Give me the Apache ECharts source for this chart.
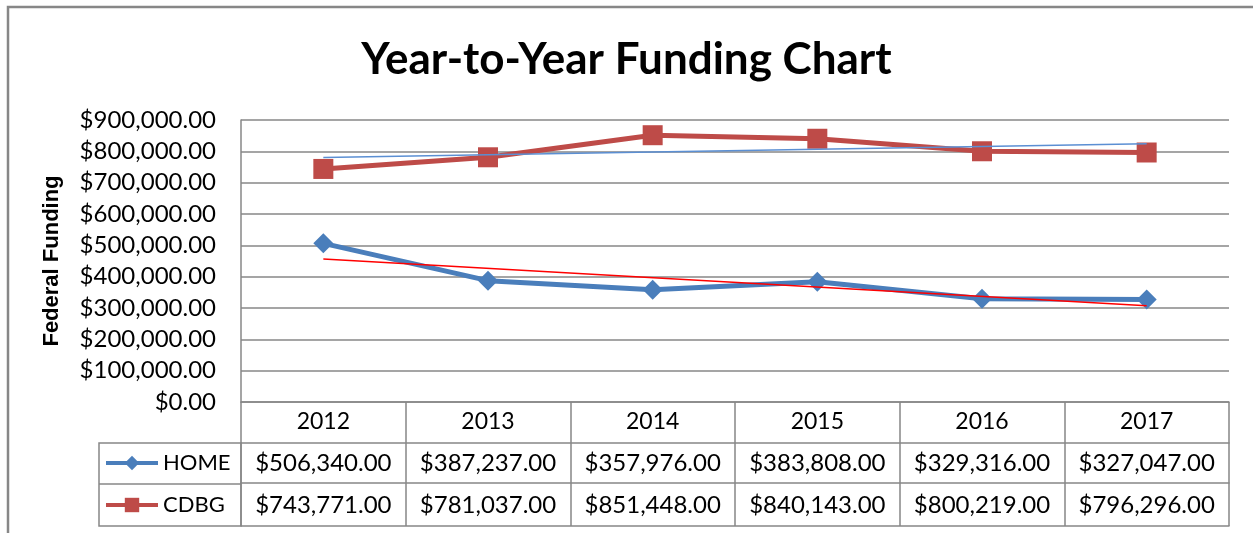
<!DOCTYPE html>
<html>
<head>
<meta charset="utf-8">
<script src="https://cdn.jsdelivr.net/npm/echarts@6/dist/echarts.min.js"></script>
<style>
  html, body { margin: 0; padding: 0; background: #fff; }
  #chart { width: 1253px; height: 533px; }
</style>
</head>
<body>
<div id="chart"></div>
<script>
const years = ['2012', '2013', '2014', '2015', '2016', '2017']
const homeVals = [506340, 387237, 357976, 383808, 329316, 327047]
const cdbgVals = [743771, 781037, 851448, 840143, 800219, 796296]
// trendline end points (2012, 2017)
const homeTrend = [456000, 307000]
const cdbgTrend = [780000, 824000]

const FONT = 'Lato'
const GRAY = '#878787'

const money = v => '$' + v.toLocaleString('en-US', { minimumFractionDigits: 2, maximumFractionDigits: 2 })
const trendData = ends => years.map((y, i) => i === 0 ? ends[0] : (i === years.length - 1 ? ends[1] : null))

const chart = echarts.init(document.getElementById('chart'))

const tableAxis = (offset, values, margin) => ({
    type: 'category',
    data: years,
    position: 'bottom',
    offset: offset,
    axisLine: { show: true, lineStyle: { color: GRAY, width: 1.5 } },
    axisTick: { show: false },
    axisLabel: {
        show: !!values,
        interval: 0,
        hideOverlap: false,
        margin: margin,
        fontFamily: FONT,
        fontSize: 24,
        color: '#000',
        formatter: (v, i) => values ? money(values[i]) : ''
    }
})

const option = {
    animation: false,
    backgroundColor: '#fff',
    title: {
        text: 'Year-to-Year Funding Chart',
        left: 'center',
        top: 33,
        textStyle: { fontFamily: FONT, fontSize: 44, fontWeight: 'bold', color: '#000' }
    },
    legend: {
        orient: 'vertical',
        left: 104,
        top: 452,
        padding: 0,
        data: ['HOME', 'CDBG'],
        itemWidth: 52,
        itemHeight: 18,
        itemGap: 20,
        lineStyle: { width: 4 },
        textStyle: { fontFamily: FONT, fontSize: 22, color: '#000', lineHeight: 22 }
    },
    grid: { left: 241, right: 24, top: 120, bottom: 131 },
    xAxis: [
        {
            type: 'category',
            data: years,
            position: 'bottom',
            axisLine: { show: true, lineStyle: { color: GRAY, width: 1.5 } },
            axisTick: { show: true, length: 124, interval: 0, lineStyle: { color: GRAY, width: 1.5 } },
            axisLabel: { interval: 0, margin: 8, fontFamily: FONT, fontSize: 23, color: '#000' }
        },
        tableAxis(41, homeVals, 8),
        tableAxis(81, cdbgVals, 10),
        tableAxis(124, null, 0)
    ],
    yAxis: {
        type: 'value',
        min: 0,
        max: 900000,
        interval: 100000,
        name: 'Federal Funding',
        nameLocation: 'middle',
        nameRotate: 90,
        nameGap: 178,
        nameTextStyle: { fontFamily: 'Liberation Sans', fontSize: 22, fontWeight: 'bold', color: '#000' },
        axisLine: { show: true, lineStyle: { color: GRAY, width: 1.5 } },
        axisTick: { show: false },
        splitLine: { lineStyle: { color: GRAY, width: 1.5 } },
        axisLabel: { margin: 25, fontFamily: FONT, fontSize: 24, color: '#000', formatter: money }
    },
    graphic: [
        {
            type: 'rect',
            shape: { x: 8, y: 7, width: 1300, height: 600 },
            style: { fill: 'none', stroke: GRAY, lineWidth: 2.5 }
        },
        {
            type: 'rect',
            shape: { x: 99, y: 443, width: 142, height: 83 },
            style: { fill: 'none', stroke: GRAY, lineWidth: 1.5 }
        },
        {
            type: 'line',
            shape: { x1: 99, y1: 484, x2: 241, y2: 484 },
            style: { stroke: GRAY, lineWidth: 1.5 }
        }
    ],
    series: [
        {
            name: 'HOME',
            type: 'line',
            data: homeVals,
            color: '#4A7EBB',
            lineStyle: { width: 5 },
            symbol: 'diamond',
            symbolSize: 20,
            z: 3
        },
        {
            name: 'CDBG',
            type: 'line',
            data: cdbgVals,
            color: '#BE4B48',
            lineStyle: { width: 5 },
            symbol: 'rect',
            symbolSize: 20,
            z: 3
        },
        {
            name: 'HOME trend',
            type: 'line',
            data: trendData(homeTrend),
            connectNulls: true,
            color: '#FF0000',
            lineStyle: { width: 1.5 },
            symbol: 'none',
            z: 4
        },
        {
            name: 'CDBG trend',
            type: 'line',
            data: trendData(cdbgTrend),
            connectNulls: true,
            color: '#5B8FD3',
            lineStyle: { width: 1.5 },
            symbol: 'none',
            z: 4
        }
    ]
}

chart.setOption(option)
</script>
</body>
</html>
